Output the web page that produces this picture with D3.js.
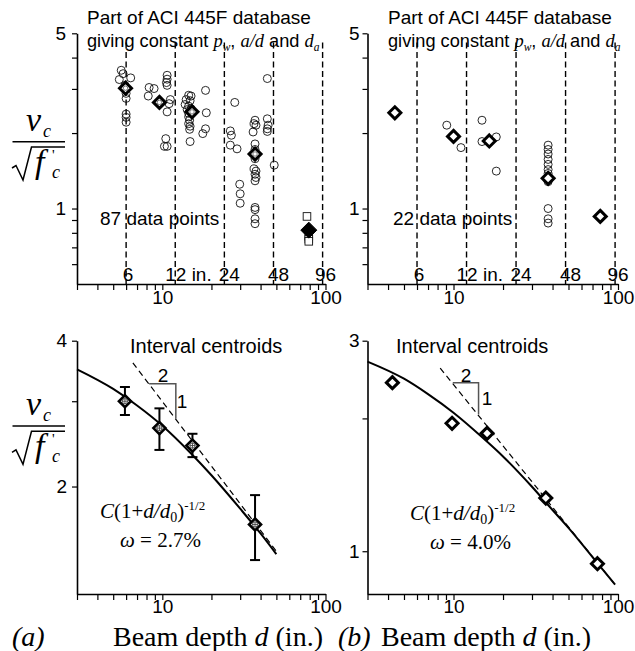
<!DOCTYPE html>
<html><head><meta charset="utf-8">
<script src="https://cdn.jsdelivr.net/npm/d3@7"></script>
<style>body{margin:0;background:#fff}svg{display:block}</style>
</head><body>
<script>
// ---------------- DATA ----------------
// Top-left panel (a): individual test points [d (in.), vc/sqrt(f'c)]
const tlCircles = [
  [5.6,3.56],[5.75,3.45],[5.45,3.27],[6.4,3.32],[5.9,3.1],[6.0,2.88],[6.0,2.75],[6.0,2.38],[6.0,2.31],[6.0,2.21],
  [8.3,3.04],[8.9,3.01],[8.2,2.81],[10.7,3.40],[10.7,3.28],[10.6,3.18],[10.7,3.10],[11.2,2.72],[11.0,2.62],[10.7,2.43],[10.5,1.90],[10.3,1.77],[10.7,1.77],
  [14.5,2.83],[15.0,2.81],[14.0,2.72],[14.8,2.69],[13.8,2.60],[14.5,2.56],[15.0,2.50],[14.2,2.48],[14.5,2.40],[14.5,2.32],[14.7,2.25],[14.5,2.18],[14.8,2.13],[14.7,2.07],[18.4,2.96],[18.6,2.41],[18.4,2.08],[17.7,1.99],[14.8,1.85],
  [27.8,2.65],[26.1,2.04],[26.5,1.96],[26.1,1.79],[28.7,1.73],[29.8,1.25],[30,1.145],[30,1.05],
  [37,2.25],[36.5,2.18],[37.5,2.15],[36,2.02],[37,1.81],[37,1.72],[37,1.58],[36.5,1.44],[37.5,1.41],[37,1.37],[37.5,1.33],[37,1.29],[37,1.01],[37,0.99],[37,0.91],[37,0.87],
  [44,3.30],[44,2.28],[44.5,2.15],[44,2.08],[44,2.03],[48.5,1.49]
];
const tlSquares = [[77,0.93],[79,0.775],[79,0.755],[79,0.74]];
const tlCentroids = [[5.95,3.02],[9.6,2.65],[15.2,2.43],[37,1.65]];
const tlFilled = [[79,0.82]];

// Top-right panel (b)
const trCircles = [
  [9.1,2.15],[11.1,1.75],[14.9,2.25],[14.9,1.85],[18.2,1.93],[18.2,1.41],
  [37.6,1.79],[37.6,1.72],[37.6,1.65],[37.6,1.57],[37.6,1.50],[37.6,1.43],[37.6,1.38],[37.6,1.28],[37.6,1.0],[37.6,0.91],[37.6,0.875]
];
const trCentroids = [[4.4,2.41],[10,1.94],[16.5,1.86],[37.6,1.32],[78,0.93]];

// Bottom-left: interval centroids with scatter bars [d, v, low, high]
const blCentroids = [[5.9,3.0,2.81,3.21],[9.6,2.64,2.38,2.90],[15.3,2.43,2.30,2.57],[37,1.67,1.41,1.92]];
const blCurveD = [3,5,7,10,15,20,30,40,50];
const blCurveV = [3.49,3.18,2.94,2.67,2.34,2.11,1.80,1.60,1.45];
const blDashed = [[6.6,3.60],[50,1.47]];
const blTriangle = [[8.3,3.26],[12.1,3.26],[12.1,2.76]];

// Bottom-right
const brCentroids = [[4.25,2.41],[9.8,1.95],[16,1.85],[36.4,1.32],[75,0.937]];
const brCurveD = [3,5,7,10,15,20,30,40,50,70,96];
const brCurveV = [2.69,2.46,2.27,2.06,1.81,1.64,1.40,1.24,1.13,0.97,0.84];
const brDashed = [[8.3,2.60],[96,0.84]];
const brTriangle = [[9.9,2.41],[14.2,2.41],[14.2,2.04]];

// Axes
const xTicks = [3,4,5,6,7,8,9,10,20,30,40,50,60,70,80,90,100];
const xTickLabels = [10,100];
const topYTicks = [0.6,0.7,0.8,0.9,1,2,3,4,5];
const topYLabels = [1,5];
const blYTicks = [2,3,4];
const blYLabels = [2,4];
const brYTicks = [1,2,3];
const brYLabels = [1,3];
const depthLines = [6,12,24,48,96];
const depthLabels = ["6","12 in.","24","48","96"];

// ---------------- DRAW ----------------
const W=635,H=651;
const SANS="'Liberation Sans', Arial, sans-serif", SERIF="'Liberation Serif', 'Times New Roman', serif";
const svg=d3.select("body").append("svg").attr("width",W).attr("height",H);

function panel(xr, yr, yDom){
  return {x:d3.scaleLog().domain([3,100]).range(xr), y:d3.scaleLog().domain(yDom).range(yr)};
}
const TL=panel([77,325.5],[284,33.3],[0.5,5]);
const TR=panel([367.5,618],[284,33.3],[0.5,5]);
const BL=panel([77,325.5],[594,340.7],[1.2,4]);
const BR=panel([367.5,618],[594,340.7],[0.8,3]);

function axes(p, yTicks, yLabels, padY, padX){
  const gx=svg.append("g").attr("transform",`translate(0,${p.y.range()[0]})`)
    .call(d3.axisBottom(p.x).tickValues(xTicks).tickSize(6).tickSizeOuter(0).tickPadding(padX)
      .tickFormat(d=>xTickLabels.includes(d)?String(d):""));
  const gy=svg.append("g").attr("transform",`translate(${p.x.range()[0]},0)`)
    .call(d3.axisLeft(p.y).tickValues(yTicks).tickSize(5).tickSizeOuter(0).tickPadding(padY)
      .tickFormat(d=>yLabels.includes(d)?String(d):""));
  [gx,gy].forEach(g=>{
    g.attr("font-family",SANS).attr("font-size",19);
    g.select(".domain").attr("stroke","#000").attr("stroke-width",1.6);
    g.selectAll(".tick line").attr("stroke","#000").attr("stroke-width",1.2);
    g.selectAll(".tick text").attr("fill","#000");
  });
}
axes(TL,topYTicks,topYLabels,6,1);
axes(TR,topYTicks,topYLabels,3,1);
axes(BL,blYTicks,blYLabels,5,0);
axes(BR,brYTicks,brYLabels,3,0);

function diamondPath(s){return `M0,${-s}L${s},0L0,${s}L${-s},0Z`;}

// vertical depth lines + labels in top panels
[TL,TR].forEach(p=>{
  const g=svg.append("g");
  g.selectAll("line").data(depthLines).join("line")
    .attr("x1",d=>p.x(d)).attr("x2",d=>p.x(d))
    .attr("y1",p.y(4.6)).attr("y2",p.y(0.5))
    .attr("stroke","#000").attr("stroke-width",1.4).attr("stroke-dasharray","6,3.5");
  const offs=[2,-10,5,5,3];
  g.selectAll("text").data(depthLines).join("text")
    .attr("x",(d,i)=>p.x(d)+offs[i]).attr("y",281)
    .attr("text-anchor",(d,i)=>i===1?"start":"middle")
    .attr("font-family",SANS).attr("font-size",19)
    .text((d,i)=>depthLabels[i]);
});

// titles
function title(x){
  svg.append("text").attr("x",x).attr("y",24).attr("font-family",SANS).attr("font-size",19).text("Part of ACI 445F database");
  const t=svg.append("text").attr("x",x).attr("y",47).attr("font-family",SANS).attr("font-size",18.2);
  const it=(s,fs)=>t.append("tspan").attr("font-family",SERIF).attr("font-style","italic").attr("font-size",fs).text(s);
  t.append("tspan").text("giving constant ");
  it("p",18.5);
  it("w",11.5).attr("dy",4);
  t.append("tspan").attr("dy",-4).text(", ");
  it("a/d",18.5);
  t.append("tspan").text(" and ");
  it("d",18.5);
  it("a",11.5).attr("dy",4);
}
title(87); title(388);

// top-left markers
svg.append("g").selectAll("circle").data(tlCircles).join("circle")
  .attr("cx",d=>TL.x(d[0])).attr("cy",d=>TL.y(d[1])).attr("r",4)
  .attr("fill","none").attr("stroke","#111").attr("stroke-width",0.9);
svg.append("g").selectAll("rect").data(tlSquares).join("rect")
  .attr("x",d=>TL.x(d[0])-3.8).attr("y",d=>TL.y(d[1])-3.8).attr("width",7.6).attr("height",7.6)
  .attr("fill","#fff").attr("stroke","#111").attr("stroke-width",0.9);
const tlc=svg.append("g").selectAll("g").data(tlCentroids).join("g")
  .attr("transform",d=>`translate(${TL.x(d[0])},${TL.y(d[1])})`);
tlc.append("path").attr("d",diamondPath(6)).attr("fill","#fff").attr("stroke","#000").attr("stroke-width",3);
tlc.append("circle").attr("r",2.2).attr("fill","none").attr("stroke","#555").attr("stroke-width",0.8);
svg.append("g").selectAll("path").data(tlFilled).join("path")
  .attr("transform",d=>`translate(${TL.x(d[0])},${TL.y(d[1])})`)
  .attr("d",diamondPath(8)).attr("fill","#000").attr("stroke","#000").attr("stroke-width",1);

// top-right markers
svg.append("g").selectAll("circle").data(trCircles).join("circle")
  .attr("cx",d=>TR.x(d[0])).attr("cy",d=>TR.y(d[1])).attr("r",4)
  .attr("fill","none").attr("stroke","#111").attr("stroke-width",0.9);
svg.append("g").selectAll("path").data(trCentroids).join("path")
  .attr("transform",d=>`translate(${TR.x(d[0])},${TR.y(d[1])})`)
  .attr("d",diamondPath(6)).attr("fill","#fff").attr("stroke","#000").attr("stroke-width",3);

// data point counts
svg.append("text").attr("x",100).attr("y",225).attr("font-family",SANS).attr("font-size",19).text("87 data points");
svg.append("text").attr("x",393).attr("y",225).attr("font-family",SANS).attr("font-size",19).text("22 data points");

// bottom panels
function bottom(p, curveD, curveV, dashed, tri, triLab){
  const line=d3.line().x(d=>p.x(d[0])).y(d=>p.y(d[1])).curve(d3.curveMonotoneX);
  svg.append("path").datum(curveD.map((d,i)=>[d,curveV[i]])).attr("d",line)
    .attr("fill","none").attr("stroke","#000").attr("stroke-width",2);
  svg.append("path").datum(dashed).attr("d",d3.line().x(d=>p.x(d[0])).y(d=>p.y(d[1])))
    .attr("fill","none").attr("stroke","#000").attr("stroke-width",1.2).attr("stroke-dasharray","6,4");
  svg.append("path").datum(tri).attr("d",d3.line().x(d=>p.x(d[0])).y(d=>p.y(d[1])))
    .attr("fill","none").attr("stroke","#555").attr("stroke-width",1.5);
  svg.append("text").attr("x",triLab[0]).attr("y",triLab[1]).attr("text-anchor","middle")
    .attr("font-family",SANS).attr("font-size",19).text("2");
  svg.append("text").attr("x",triLab[2]).attr("y",triLab[3]).attr("text-anchor","middle")
    .attr("font-family",SANS).attr("font-size",19).text("1");
}
bottom(BL,blCurveD,blCurveV,blDashed,blTriangle,[163,382,182,408]);
bottom(BR,brCurveD,brCurveV,brDashed,brTriangle,[466,382,487,405]);

// BL error bars + centroids
const eb=svg.append("g").selectAll("g").data(blCentroids).join("g");
eb.append("line").attr("x1",d=>BL.x(d[0])).attr("x2",d=>BL.x(d[0])).attr("y1",d=>BL.y(d[2])).attr("y2",d=>BL.y(d[3]))
  .attr("stroke","#000").attr("stroke-width",2);
[2,3].forEach(k=>{
  eb.append("line").attr("x1",d=>BL.x(d[0])-5).attr("x2",d=>BL.x(d[0])+5).attr("y1",d=>BL.y(d[k])).attr("y2",d=>BL.y(d[k]))
    .attr("stroke","#000").attr("stroke-width",2);
});
const blm=eb.append("g").attr("transform",d=>`translate(${BL.x(d[0])},${BL.y(d[1])})`);
blm.append("path").attr("d",diamondPath(6)).attr("fill","#fff").attr("stroke","#000").attr("stroke-width",2.6);
blm.append("circle").attr("r",2.6).attr("fill","none").attr("stroke","#444").attr("stroke-width",0.9);
blm.append("path").attr("d","M-3,0H3M0,-3V3").attr("stroke","#444").attr("stroke-width",0.9);

// BR centroids
svg.append("g").selectAll("path").data(brCentroids).join("path")
  .attr("transform",d=>`translate(${BR.x(d[0])},${BR.y(d[1])})`)
  .attr("d",diamondPath(6)).attr("fill","#fff").attr("stroke","#000").attr("stroke-width",3);

// Interval centroids labels
svg.append("text").attr("x",130).attr("y",353).attr("font-family",SANS).attr("font-size",20).text("Interval centroids");
svg.append("text").attr("x",396).attr("y",353).attr("font-family",SANS).attr("font-size",20).text("Interval centroids");

// formulas
function formula(x,y,om){
  const t=svg.append("text").attr("x",x).attr("y",y).attr("font-family",SERIF).attr("font-size",21);
  t.append("tspan").attr("font-style","italic").text("C");
  t.append("tspan").text("(1+");
  t.append("tspan").attr("font-style","italic").text("d/d");
  t.append("tspan").attr("font-size",14).attr("dy",4).text("0");
  t.append("tspan").attr("dy",-4).text(")");
  t.append("tspan").attr("font-size",13).attr("dy",-8).text("-1/2");
  const o=svg.append("text").attr("x",x+20).attr("y",y+29).attr("font-family",SERIF).attr("font-size",21);
  o.append("tspan").attr("font-style","italic").text("ω");
  o.append("tspan").text(" = "+om);
}
formula(100,518,"2.7%");
formula(410,520,"4.0%");

// y labels
function yLabel(dy){
  const g=svg.append("g").attr("transform",`translate(0,${dy})`);
  const it=(x,y,fs,s)=>g.append("text").attr("x",x).attr("y",y).attr("font-family",SERIF).attr("font-style","italic").attr("font-size",fs).text(s);
  it(26,131,34,"v");
  it(43,137,18,"c");
  g.append("line").attr("x1",12.5).attr("x2",65).attr("y1",141.7).attr("y2",141.7).attr("stroke","#000").attr("stroke-width",1.5);
  g.append("path").attr("d","M12,168L16,165.5L23,180L31.5,147L65,147").attr("fill","none").attr("stroke","#000").attr("stroke-width",1.5);
  it(35,173,34,"f");
  g.append("text").attr("x",52).attr("y",160).attr("font-family",SERIF).attr("font-size",15).text("'");
  it(52,178,18,"c");
}
yLabel(0); yLabel(284.3);

// x labels
function xLabel(xl, xt, lab){
  svg.append("text").attr("x",xl).attr("y",646).attr("font-family",SERIF).attr("font-style","italic").attr("font-size",28).text(lab);
  const t=svg.append("text").attr("x",xt).attr("y",646).attr("font-family",SERIF).attr("font-size",28);
  t.append("tspan").text("Beam depth ");
  t.append("tspan").attr("font-style","italic").text("d");
  t.append("tspan").text(" (in.)");
}
xLabel(12,113,"(a)");
xLabel(338,381,"(b)");
</script>
</body></html>
